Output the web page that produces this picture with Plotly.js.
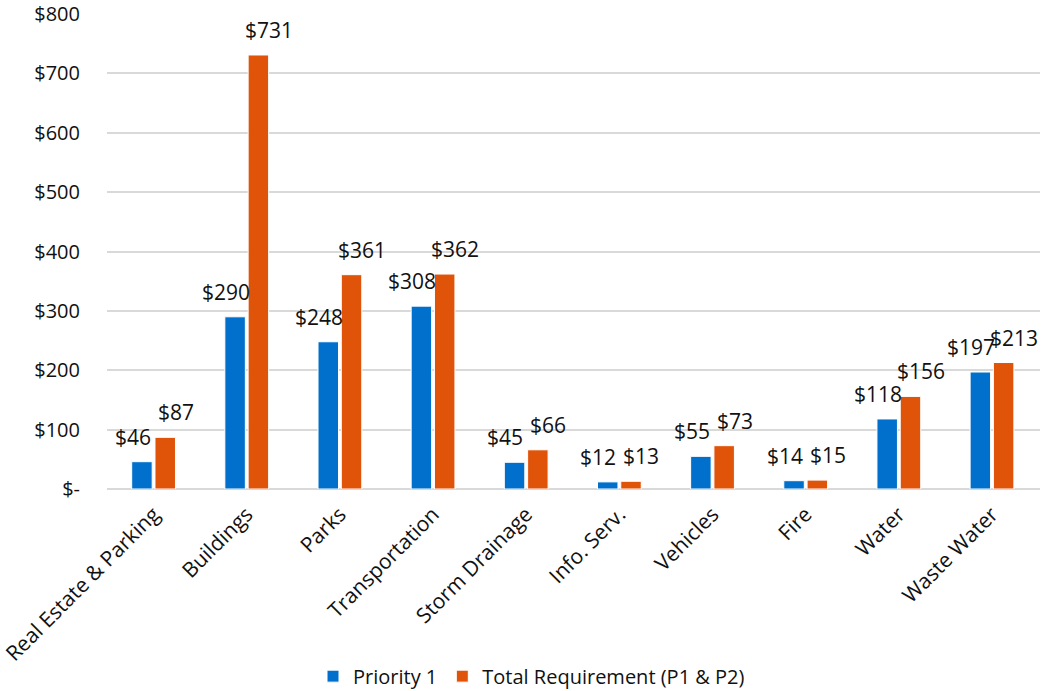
<!DOCTYPE html>
<html><head><meta charset="utf-8">
<script src="https://cdn.plot.ly/plotly-3.0.1.min.js"></script>
<style>html,body{margin:0;padding:0;background:#fff}</style>
</head><body><div id="chart" style="width:1052px;height:691px"></div>
<script>
const categories = ["Real Estate & Parking","Buildings","Parks","Transportation","Storm Drainage","Info. Serv.","Vehicles","Fire","Water","Waste Water"];
const priority1 = [46,290,248,308,45,12,55,14,118,197];
const totalReq = [87,731,361,362,66,13,73,15,156,213];
const yTickVals = [0,100,200,300,400,500,600,700,800];
const yTickText = ["$-","$100","$200","$300","$400","$500","$600","$700","$800"];
const fontFam = "Open Sans, Liberation Sans, sans-serif";
const mk = (name, y, color) => ({
  type:"bar", name:name, x:categories, y:y,
  marker:{color:color, line:{color:"#ffffff", width:1}},
  hoverinfo:"none"
});
const data = [mk("Priority 1", priority1, "#0070CC"), mk("Total Requirement (P1 & P2)", totalReq, "#E0540A")];
const annotations = [];
categories.forEach((c, i) => {
  annotations.push({x:i, y:priority1[i], xref:"x", yref:"y", text:"$"+priority1[i], showarrow:false,
    xanchor:"center", yanchor:"bottom", xshift:-21, yshift:9, font:{family:fontFam, size:21, color:"#111"}});
  annotations.push({x:i, y:totalReq[i], xref:"x", yref:"y", text:"$"+totalReq[i], showarrow:false,
    xanchor:"center", yanchor:"bottom", xshift:22, yshift:9, font:{family:fontFam, size:21, color:"#111"}});
});
const layout = {
  width:1052, height:691, margin:{l:107, r:12, t:14, b:202, autoexpand:false},
  paper_bgcolor:"#fff", plot_bgcolor:"#fff",
  barmode:"group", bargap:0.5, bargroupgap:0.12,
  font:{family:fontFam, size:20, color:"#111"},
  xaxis:{tickangle:-45, tickfont:{size:21}, showgrid:false, showline:false, ticks:"", automargin:false, ticklabelstandoff:8},
  yaxis:{range:[0,800], tickvals:yTickVals, ticktext:yTickText, showgrid:true, gridcolor:"#d9d9d9", gridwidth:2, zeroline:true, zerolinecolor:"#d9d9d9", zerolinewidth:2, tickfont:{size:20}, ticks:"", ticklen:0, automargin:false, ticklabelstandoff:26},
  annotations:annotations,
  showlegend:true,
  legend:{orientation:"h", x:0.455, xanchor:"center", y:-0.394, yanchor:"middle", font:{size:20}, traceorder:"normal", itemwidth:30}
};
Plotly.newPlot("chart", data, layout, {displayModeBar:false, staticPlot:true});
</script></body></html>
